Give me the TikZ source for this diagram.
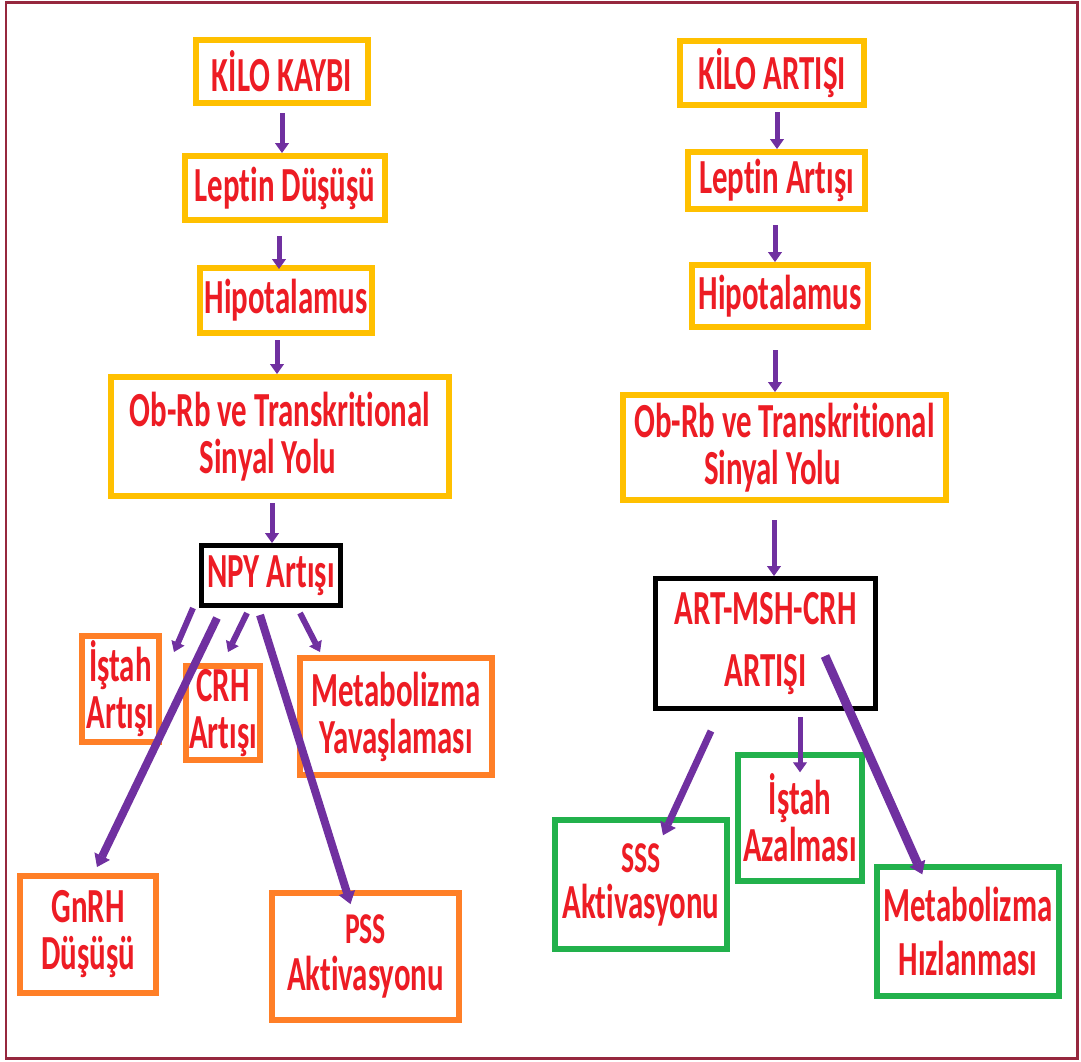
\documentclass[tikz,border=0pt]{standalone}
\usepackage{xcolor}
\usepackage{fontspec}
\newfontfamily\boxfont{Carlito}[FakeStretch=0.63,Ligatures=NoCommon]
\usepackage{tikz}
\usetikzlibrary{arrows.meta,positioning,calc}
\definecolor{boxyellow}{RGB}{255,192,0}
\definecolor{boxorange}{RGB}{255,127,39}
\definecolor{boxgreen}{RGB}{34,177,76}
\definecolor{arrowpurple}{RGB}{112,48,160}
\definecolor{textred}{RGB}{237,28,36}
\definecolor{framered}{RGB}{150,40,62}
\tikzstyle{box} = [draw, fill=white, rectangle, inner sep=0pt, align=center, text=textred, font=\boxfont\bfseries\fontsize{49}{47}\selectfont]
\tikzstyle{yellowbox} = [box, draw=boxyellow, line width=6pt]
\tikzstyle{orangebox} = [box, draw=boxorange, line width=6pt]
\tikzstyle{greenbox} = [box, draw=boxgreen, line width=5.5pt]
\tikzstyle{blackbox} = [box, draw=black, line width=5pt]
\tikzstyle{link} = [draw=arrowpurple, line width=5pt, -{Triangle[width=14pt,length=10pt,line width=1pt]}]
\tikzstyle{biglink} = [link, -{Triangle[width=17pt,length=12pt,line width=1pt]}]

\begin{document}
\begin{tikzpicture}[x=1pt,y=-1pt]
	\useasboundingbox (0,0) rectangle (1081,1061);
	\draw[framered, line width=2.5pt] (6,2.5) rectangle (1077.5,1058.5); % frame
	
	% left side: kilo kaybi
	\node[yellowbox, minimum width=172pt, minimum height=63pt] (kk) at (282,71.5) {KİLO KAYBI};
	\node[yellowbox, minimum width=200pt, minimum height=64pt] (ld) at (285,188) {Leptin Düşüşü};
	\node[yellowbox, minimum width=172pt, minimum height=65pt] (hip1) at (286,300.5) {Hipotalamus};
	\node[yellowbox, minimum width=338pt, minimum height=119pt] (ob1) at (280,436.5) {Ob-Rb ve Transkritional\\Sinyal Yolu\hspace*{24pt}};
	\node[blackbox, minimum width=139pt, minimum height=60pt] (npy) at (271,575.5) {NPY Artışı};
	\node[orangebox, minimum width=77pt, minimum height=106pt] (ia) at (120.5,689) {İştah\\Artışı};
	\node[orangebox, minimum width=74pt, minimum height=94pt] (crh) at (223,713) {CRH\\Artışı};
	\node[orangebox, minimum width=192pt, minimum height=117pt] (my) at (396,716.5) {Metabolizma\\Yavaşlaması};
	\node[orangebox, minimum width=136pt, minimum height=117pt] (gnrh) at (88,934.5) {GnRH\\Düşüşü};
	\node[orangebox, minimum width=187pt, minimum height=127pt] (pss) at (365.5,956.5) {{\fontsize{44}{47}\selectfont PSS}\\Aktivasyonu};
	
	% right side: kilo artisi
	\node[yellowbox, minimum width=184pt, minimum height=64pt] (ka) at (772,73) {KİLO ARTIŞI};
	\node[yellowbox, minimum width=177pt, minimum height=57pt] (la) at (776.5,180.5) {Leptin Artışı};
	\node[yellowbox, minimum width=176pt, minimum height=62pt] (hip2) at (780,296) {Hipotalamus};
	\node[yellowbox, minimum width=323pt, minimum height=105pt] (ob2) at (784.5,447.5) {Ob-Rb ve Transkritional\\Sinyal Yolu\hspace*{24pt}};
	\node[blackbox, minimum width=220pt, minimum height=130pt, font=\boxfont\bfseries\fontsize{49}{62}\selectfont] (art) at (765.5,643.5) {ART-MSH-CRH\\ARTIŞI};
	\node[greenbox, minimum width=172pt, minimum height=129pt, font=\boxfont\bfseries\fontsize{49}{46}\selectfont] (sss) at (641,884.5) {{\fontsize{44}{46}\selectfont SSS}\\Aktivasyonu};
	\node[greenbox, minimum width=124pt, minimum height=126pt] (iaz) at (800,818) {İştah\\Azalması};
	\node[greenbox, minimum width=182pt, minimum height=129pt, font=\boxfont\bfseries\fontsize{49}{54}\selectfont] (mh) at (968,931.5) {Metabolizma\\Hızlanması};
	
	% arrows left
	\draw[link] ($(kk.south)+(0,7)$) -- (kk.south |- ld.north);
	\draw[link] ($(ld.south)+(-6,13)$) -- ($(ld.south |- hip1.north)+(-6,4)$);
	\draw[link] ($(hip1.south)+(-9,4)$) -- ($(hip1.south |- ob1.north)+(-9,0)$);
	\draw[link] ($(ob1.south)+(-8,4)$) -- ($(ob1.south |- npy.north)+(-8,0)$);
	\draw[link, line width=6pt] ($(npy.south)+(-78,0)$) -- ($(ia.north east)+(12,19)$); % istah
	\draw[biglink, line width=8pt] ($(npy.south)+(-54,10)$) -- ($(gnrh.north)+(9,-6)$); % gnrh
	\draw[link, line width=6pt] ($(npy.south)+(-24,5)$) -- ($(crh.north)+(5,-11)$); % crh
	\draw[biglink, line width=8pt] ($(npy.south)+(-11,7)$) -- ($(pss.north)+(-15,14)$); % pss
	\draw[link, line width=6pt] ($(npy.south)+(29,5)$) -- ($(my.north west)+(23,-3)$); % metabolizma
	
	% arrows right
	\draw[link] ($(ka.south)+(5,4)$) -- ($(ka.south |- la.north)+(5,0)$);
	\draw[link] ($(la.south)+(-1.5,13)$) -- ($(la.south |- hip2.north)+(-1.5,0)$);
	\draw[link] ($(hip2.south)+(-5,20)$) -- ($(hip2.south |- ob2.north)+(-5,0)$);
	\draw[link] ($(ob2.south)+(-10.5,17)$) -- ($(ob2.south |- art.north)+(-10.5,0)$);
	\draw[biglink, line width=7pt] ($(art.south)+(-54.5,20)$) -- ($(sss.north)+(22,18)$); % sss
	\draw[link] ($(art.south)+(34.5,6)$) -- ($(iaz.north)+(0,20)$); % istah
	\draw[biglink, line width=9pt] ($(art.center)+(59.5,12.5)$) -- ($(mh.north west)+(48,10)$); % metabolizma
\end{tikzpicture}
\end{document}
